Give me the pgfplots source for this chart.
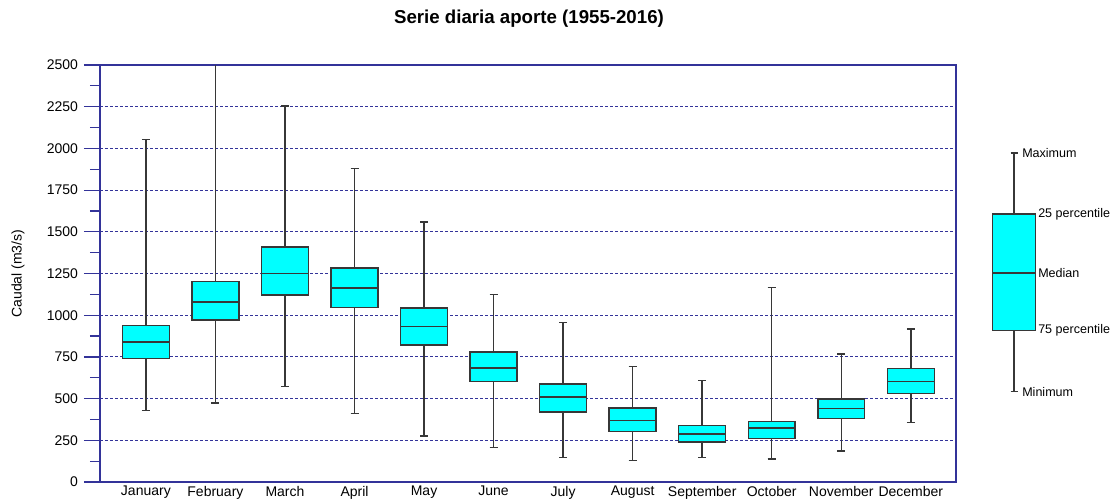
\documentclass[border=0pt]{standalone}
\usepackage{fontspec}
\setmainfont{Liberation Sans}
\usepackage{pgfplots}
\pgfplotsset{compat=1.18}
\usepgfplotslibrary{statistics}
\definecolor{frameblue}{RGB}{51,51,153}
\definecolor{boxcyan}{RGB}{0,255,255}
\definecolor{boxedge}{RGB}{55,55,55}
\pgfplotsset{bx/.style={solid, fill=boxcyan, draw=boxedge, line width=1.1pt, mark=none}}
\begin{document}
\begin{tikzpicture}[x=1pt,y=1pt]
\path[use as bounding box] (0,0) rectangle (836.25,375.75);
\node[font=\fontsize{14}{16}\selectfont\bfseries] at (396.75,361.5) {Serie diaria aporte (1955-2016)};
\node[rotate=90,font=\fontsize{10.5}{12}\selectfont] at (13.5,170.5) {Caudal (m3/s)};
\begin{axis}[
  at={(75pt,14.25pt)}, anchor=south west,
  scale only axis, width=642pt, height=312.75pt,
  xmin=0.34, xmax=12.65, ymin=0, ymax=2500,
  xtick={1,2,3,4,5,6,7,8,9,10,11,12},
  xticklabels={January,February,March,April,May,June,July,August,September,October,November,December},
  ytick={0,250,...,2500},
  minor ytick={125,375,...,2375},
  ytick pos=left,
  tick align=outside,
  major tick length=12pt, minor tick length=7.5pt,
  axis line style={frameblue, line width=0.9pt},
  every tick/.style={frameblue, line width=0.9pt},
  x tick style={draw=none},
  ymajorgrids,
  grid style={frameblue, dash pattern=on 2.25pt off 1.5pt, line width=0.75pt},
  tick label style={font=\fontsize{10.5}{12}\selectfont, black},
  /pgf/number format/assume math mode=true,
  /pgf/number format/1000 sep={},
  yticklabel style={xshift=-1pt},
  xticklabel style={yshift=12.5pt},
  boxplot/draw direction=y,
  boxplot/box extend=0.675,
  boxplot/whisker extend=0.115,
]
\addplot[bx, boxplot prepared={draw position=1, lower whisker=428, lower quartile=739, median=839, upper quartile=938, upper whisker=2052}] coordinates {};
\addplot[bx, boxplot prepared={draw position=2, lower whisker=475, lower quartile=971, median=1078, upper quartile=1202, upper whisker=2700}] coordinates {};
\addplot[bx, boxplot prepared={draw position=3, lower whisker=573, lower quartile=1120, median=1250, upper quartile=1410, upper whisker=2254}] coordinates {};
\addplot[bx, boxplot prepared={draw position=4, lower whisker=411, lower quartile=1046, median=1162, upper quartile=1282, upper whisker=1881}] coordinates {};
\addplot[bx, boxplot prepared={draw position=5, lower whisker=276, lower quartile=821, median=932, upper quartile=1042, upper whisker=1559}] coordinates {};
\addplot[bx, boxplot prepared={draw position=6, lower whisker=208, lower quartile=601, median=683, upper quartile=779, upper whisker=1124}] coordinates {};
\addplot[bx, boxplot prepared={draw position=7, lower whisker=148, lower quartile=421, median=511, upper quartile=587, upper whisker=956}] coordinates {};
\addplot[bx, boxplot prepared={draw position=8, lower whisker=130, lower quartile=304, median=369, upper quartile=445, upper whisker=691}] coordinates {};
\addplot[bx, boxplot prepared={draw position=9, lower whisker=148, lower quartile=240, median=288, upper quartile=340, upper whisker=607}] coordinates {};
\addplot[bx, boxplot prepared={draw position=10, lower whisker=138, lower quartile=262, median=324, upper quartile=364, upper whisker=1166}] coordinates {};
\addplot[bx, boxplot prepared={draw position=11, lower whisker=186, lower quartile=381, median=441, upper quartile=499, upper whisker=767}] coordinates {};
\addplot[bx, boxplot prepared={draw position=12, lower whisker=357, lower quartile=529, median=603, upper quartile=679, upper whisker=917}] coordinates {};
\end{axis}
\begin{axis}[
  at={(738pt,14.25pt)}, anchor=south west,
  scale only axis, width=45pt, height=312.75pt,
  xmin=0, xmax=2, ymin=0, ymax=2500,
  hide axis, clip=false,
  boxplot/draw direction=y,
  boxplot/box extend=1.433,
  boxplot/whisker extend=0.233,
]
\addplot[bx, boxplot prepared={draw position=1, lower whisker=541, lower quartile=907, median=1254, upper quartile=1608, upper whisker=1972}] coordinates {};
\begin{scope}[font=\fontsize{9.4}{11}\selectfont]
\node[anchor=west, inner sep=0pt] at (axis cs:1.267,1972) {Maximum};
\node[anchor=west, inner sep=0pt] at (axis cs:1.8,1608) {25 percentile};
\node[anchor=west, inner sep=0pt] at (axis cs:1.8,1254) {Median};
\node[anchor=west, inner sep=0pt] at (axis cs:1.8,907) {75 percentile};
\node[anchor=west, inner sep=0pt] at (axis cs:1.267,541) {Minimum};
\end{scope}
\end{axis}
\end{tikzpicture}
\end{document}
